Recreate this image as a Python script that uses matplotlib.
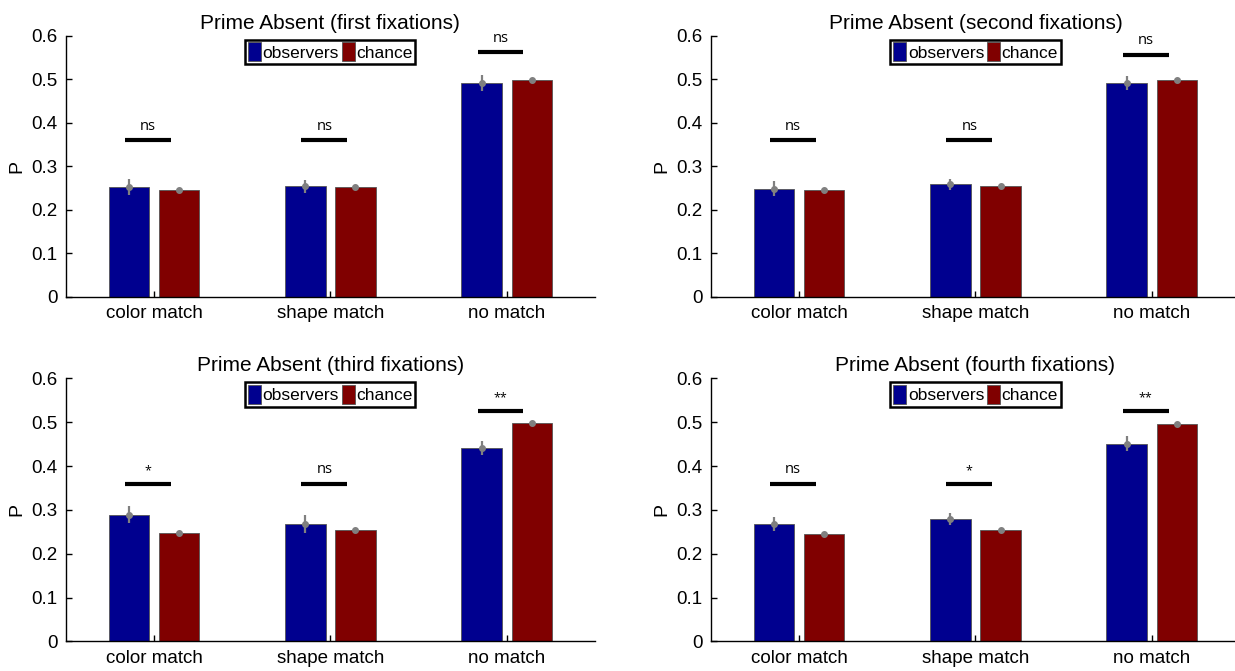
import numpy as np
import matplotlib.pyplot as plt

plt.rcParams['font.family'] = ['Liberation Sans', 'DejaVu Sans']

categories = ['color match', 'shape match', 'no match']
titles = ['Prime Absent (first fixations)', 'Prime Absent (second fixations)',
          'Prime Absent (third fixations)', 'Prime Absent (fourth fixations)']

observers = [[0.253, 0.255, 0.492],
             [0.249, 0.259, 0.491],
             [0.289, 0.268, 0.442],
             [0.267, 0.280, 0.451]]
observers_err = [[0.018, 0.015, 0.018],
                 [0.018, 0.013, 0.016],
                 [0.019, 0.020, 0.016],
                 [0.016, 0.014, 0.017]]
chance = [[0.247, 0.253, 0.499],
          [0.247, 0.254, 0.498],
          [0.247, 0.255, 0.498],
          [0.246, 0.255, 0.497]]
chance_err = [[0.002, 0.002, 0.002],
              [0.002, 0.002, 0.002],
              [0.002, 0.002, 0.002],
              [0.002, 0.002, 0.002]]

sig_labels = [['ns', 'ns', 'ns'],
              ['ns', 'ns', 'ns'],
              ['*', 'ns', '**'],
              ['ns', '*', '**']]
sig_y = [[0.36, 0.36, 0.563],
         [0.36, 0.36, 0.557],
         [0.36, 0.36, 0.525],
         [0.36, 0.36, 0.525]]

blue = '#00008f'
red = '#800000'
grey = '#808080'

fig = plt.figure(figsize=(12.35, 6.71), dpi=100)

positions = [[0.0534, 0.5574, 0.4283, 0.389],
             [0.5757, 0.5574, 0.4283, 0.389],
             [0.0534, 0.0440, 0.4283, 0.392],
             [0.5757, 0.0440, 0.4283, 0.392]]

x = np.arange(1, 4)
off = 0.142
w = 0.23

for i in range(4):
    ax = fig.add_axes(positions[i])
    b1 = ax.bar(x - off, observers[i], w, color=blue, edgecolor='#555555', linewidth=0.6,
                label='observers')
    b2 = ax.bar(x + off, chance[i], w, color=red, edgecolor='#555555', linewidth=0.6,
                label='chance')
    ax.errorbar(x - off, observers[i], yerr=observers_err[i], fmt='o', color=grey,
                markersize=4, elinewidth=1.6, capsize=0)
    ax.errorbar(x + off, chance[i], yerr=chance_err[i], fmt='o', color=grey,
                markersize=4, elinewidth=1.6, capsize=0)

    # significance bars
    for j in range(3):
        cx = x[j] - 0.035
        lab = sig_labels[i][j]
        ax.plot([cx - 0.13, cx + 0.13], [sig_y[i][j], sig_y[i][j]], color='black', lw=3,
                solid_capstyle='butt')
        ax.text(cx, sig_y[i][j] + 0.015, lab, ha='center', va='bottom',
                fontsize=10.5 if lab == 'ns' else 9, family=['Open Sans', 'DejaVu Sans'])

    ax.set_xlim(0.5, 3.5)
    ax.set_ylim(0, 0.6)
    ax.set_yticks([0, 0.1, 0.2, 0.3, 0.4, 0.5, 0.6])
    ax.set_yticklabels(['0', '0.1', '0.2', '0.3', '0.4', '0.5', '0.6'])
    ax.set_xticks(x)
    ax.set_xticklabels(categories)
    ax.tick_params(direction='in', labelsize=13.5, length=4, width=1, pad=6)
    ax.spines['top'].set_visible(False)
    ax.spines['right'].set_visible(False)
    ax.spines['left'].set_linewidth(1)
    ax.spines['bottom'].set_linewidth(1)
    ax.set_ylabel('P', fontsize=14, labelpad=4)
    ax.set_title(titles[i], fontsize=15, pad=5)

    leg = ax.legend(handles=[b1, b2], loc='upper center', bbox_to_anchor=(0.5, 0.985),
                    ncol=2, fontsize=12.5, handlelength=0.75, handleheight=1.3,
                    handletextpad=0.1, columnspacing=0.15, borderpad=0.15,
                    borderaxespad=0, fancybox=False, framealpha=1)
    leg.get_frame().set_edgecolor('black')
    leg.get_frame().set_linewidth(1.8)

fig.savefig('out.png', dpi=100)
